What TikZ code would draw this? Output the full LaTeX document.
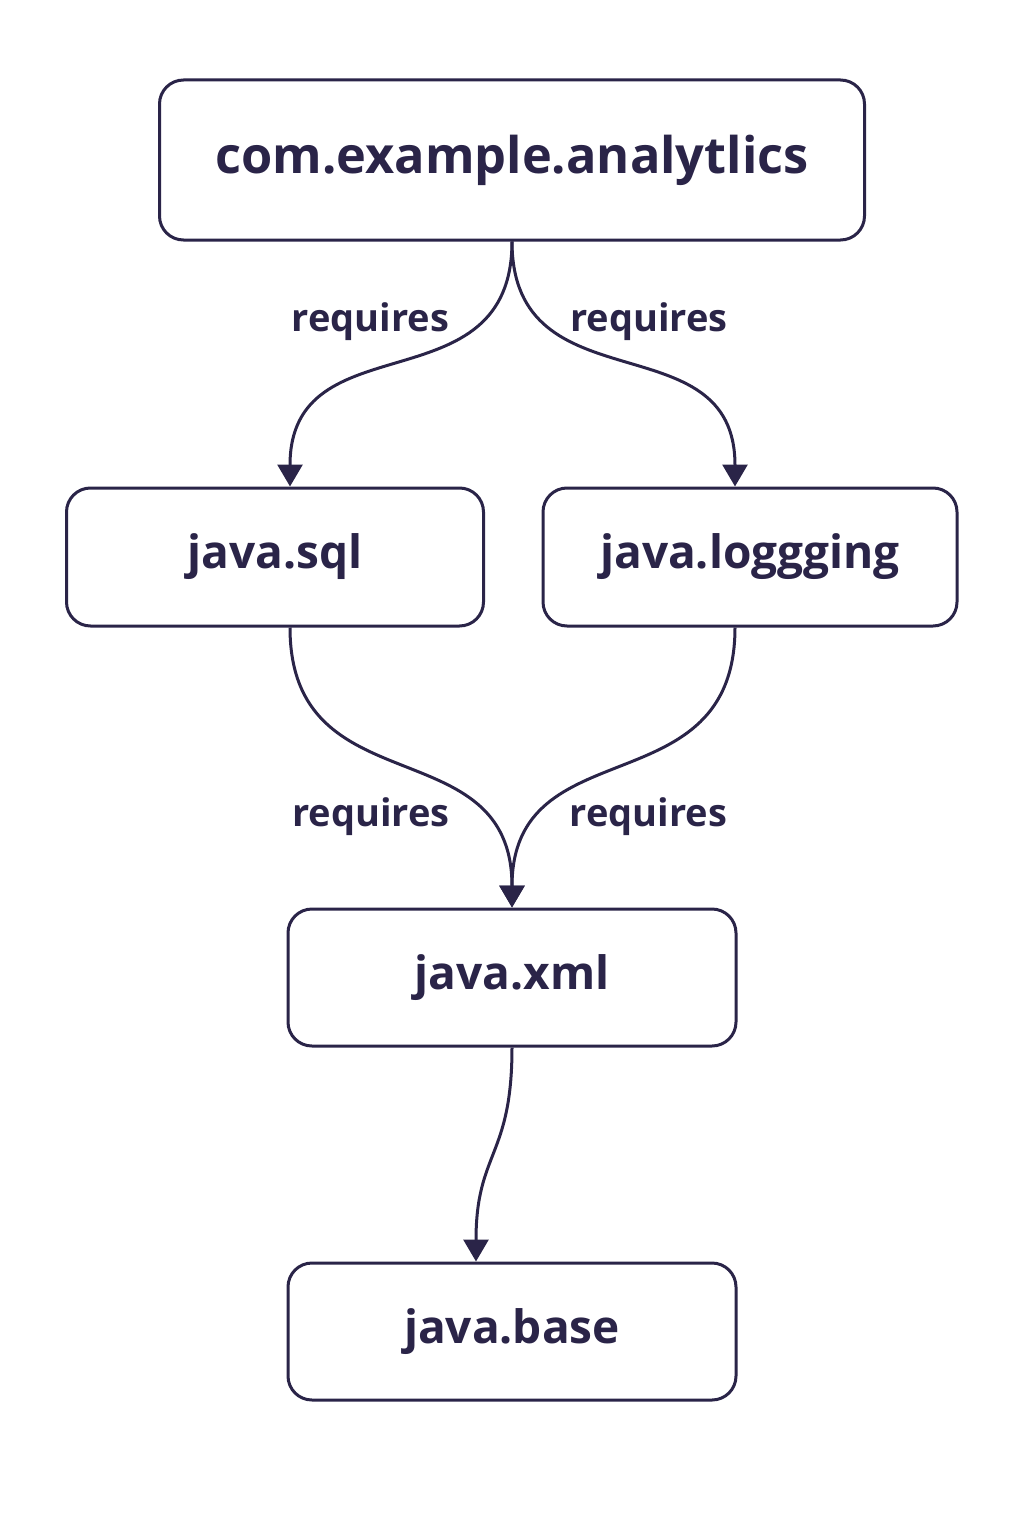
\documentclass[tikz,border=0pt]{standalone}
\usepackage{fontspec}
\setmainfont{Open Sans}
\usetikzlibrary{arrows.meta,positioning}
\definecolor{Ink}{HTML}{2A2448}
\tikzset{
  modbox/.style={draw=Ink,line width=3pt,rounded corners=24pt,fill=white,text=Ink,font=\bfseries\fontsize{46}{54}\selectfont},
  req/.style={-{Triangle[length=22pt,width=25pt]},line width=3pt,draw=Ink,looseness=1.3},
  lbl/.style={text=Ink,font=\bfseries\fontsize{38}{46}\selectfont,yshift=-4pt}
}

\begin{document}
\begin{tikzpicture}
  \useasboundingbox (0pt,0pt) rectangle (1024pt,-1536pt);
  \node[modbox,minimum width=705pt,minimum height=160pt,font=\bfseries\fontsize{50.5}{60}\selectfont] (app) at (512pt,-160pt) {com.example.analytlics};
  \node[modbox,below=245pt of app,xshift=-237pt,minimum width=417pt,minimum height=138pt] (sql) {java.sql};
  \node[modbox,below=245pt of app,xshift=238pt,minimum width=414pt,minimum height=138pt] (log) {java.loggging};
  \node[modbox,below=280pt of sql,xshift=237pt,minimum width=448pt,minimum height=137pt] (xml) {java.xml};
  \node[modbox,below=214pt of xml,minimum width=448pt,minimum height=137pt] (base) {java.base};
  % requires edges
  \draw[req] (app.south) to[out=-90,in=90] node[lbl,pos=0.21,left=33pt] {requires} ([xshift=15pt]sql.north);
  \draw[req] (app.south) to[out=-90,in=90] node[lbl,pos=0.21,right=28pt] {requires} ([xshift=-15pt]log.north);
  \draw[req] ([xshift=15pt]sql.south) to[out=-90,in=90] node[lbl,pos=0.75,left=23pt] {requires} (xml.north);
  \draw[req] ([xshift=-15pt]log.south) to[out=-90,in=90] node[lbl,pos=0.75,right=18pt] {requires} (xml.north);
  \draw[req] (xml.south) to[out=-90,in=90] ([xshift=-36pt]base.north);
\end{tikzpicture}
\end{document}
